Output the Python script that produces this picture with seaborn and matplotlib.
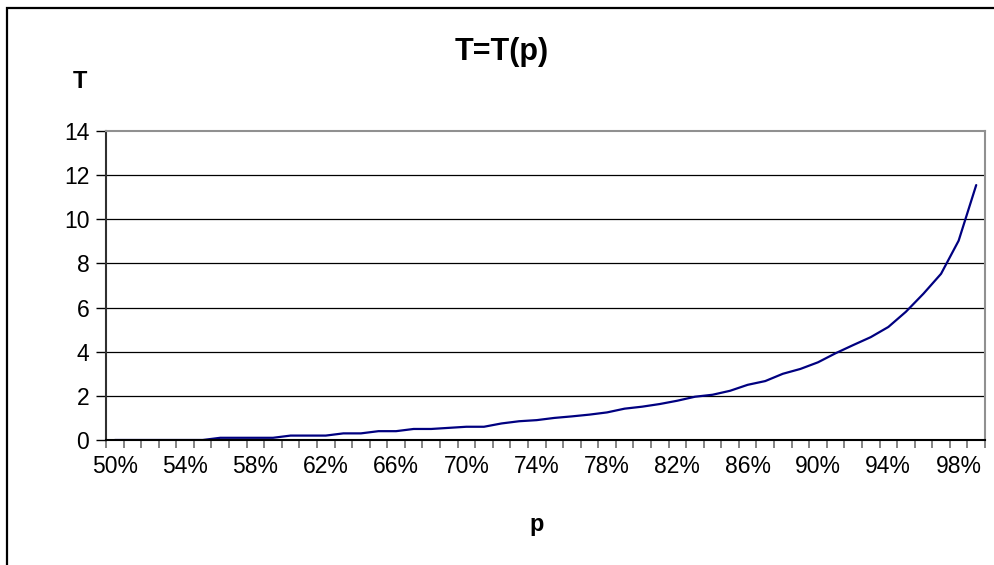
import matplotlib
matplotlib.use("Agg")
import matplotlib.pyplot as plt
from matplotlib.patches import Rectangle
import numpy as np
import pandas as pd
import seaborn as sns

# probability levels, in percent
p_percent = list(range(50, 100))
# T as a function of p
t_values = [0.0, 0.0, 0.0, 0.0, 0.0, 0.0, 0.1, 0.1, 0.1, 0.1,
            0.2, 0.2, 0.2, 0.3, 0.3, 0.4, 0.4, 0.5, 0.5, 0.55,
            0.6, 0.6, 0.75, 0.85, 0.9, 1.0, 1.07, 1.15, 1.25, 1.42,
            1.51, 1.63, 1.78, 1.96, 2.05, 2.23, 2.5, 2.67, 3.0, 3.22,
            3.52, 3.93, 4.3, 4.66, 5.12, 5.81, 6.63, 7.53, 9.03, 11.55]
y_ticks = [0, 2, 4, 6, 8, 10, 12, 14]
x_label_every = 4

df = pd.DataFrame({"idx": np.arange(len(p_percent)), "p": p_percent, "T": t_values})

sns.set_theme(style="white")
plt.rcParams["font.family"] = ["Liberation Sans", "DejaVu Sans"]
plt.rcParams["text.color"] = "black"
plt.rcParams["xtick.labelcolor"] = "black"
plt.rcParams["ytick.labelcolor"] = "black"

fig = plt.figure(figsize=(9.95, 5.65), dpi=100)
ax = fig.add_axes([106 / 995, 125 / 565, 879 / 995, 309 / 565])

sns.lineplot(data=df, x="idx", y="T", ax=ax, color="#000080", linewidth=1.6)

n = len(p_percent)
ax.set_xlim(-0.5, n - 0.5)
ax.set_ylim(0, 14)

# horizontal gridlines
for yv in y_ticks[1:-1]:
    ax.axhline(yv, color="black", linewidth=0.9, zorder=0)

ax.set_yticks(y_ticks)
ax.set_yticklabels([str(v) for v in y_ticks], fontsize=16.5, color="black")
label_pos = list(range(0, n, x_label_every))
ax.set_xticks(label_pos)
ax.set_xticklabels([f"{p_percent[i]}%" for i in label_pos], fontsize=16.5,
                   color="black")
ax.tick_params(axis="x", which="major", length=0, pad=11)
ax.set_xticks(np.arange(-0.5, n, 1.0), minor=True)
ax.tick_params(axis="x", which="minor", length=6, width=1.2, color="#707070",
               direction="out", bottom=True)
ax.tick_params(axis="y", which="major", length=7, width=1.0, color="black",
               direction="out", left=True, pad=5)

for side in ["top", "right"]:
    ax.spines[side].set_color("#909090")
    ax.spines[side].set_linewidth(1.5)
ax.spines["left"].set_color("#303030")
ax.spines["left"].set_linewidth(1.5)
ax.spines["bottom"].set_color("black")
ax.spines["bottom"].set_linewidth(1.5)

ax.set_xlabel("")
ax.set_ylabel("")

fig.text(537 / 995, 1 - 525 / 565, "p", fontsize=17, fontweight="bold",
         ha="center", va="center", color="black")
fig.text(80 / 995, 1 - 82 / 565, "T", fontsize=17, fontweight="bold",
         ha="center", va="center", color="black")
fig.text(502 / 995, 1 - 52 / 565, "T=T(p)", fontsize=22, fontweight="bold",
         ha="center", va="center", color="black")

# chart frame
fig.patches.append(Rectangle((7 / 995, -0.1), 1.2, 1 - 8 / 565 + 0.1,
                             transform=fig.transFigure, fill=False,
                             edgecolor="black", linewidth=1.6))

fig.savefig("out.png", dpi=100, facecolor="white")
